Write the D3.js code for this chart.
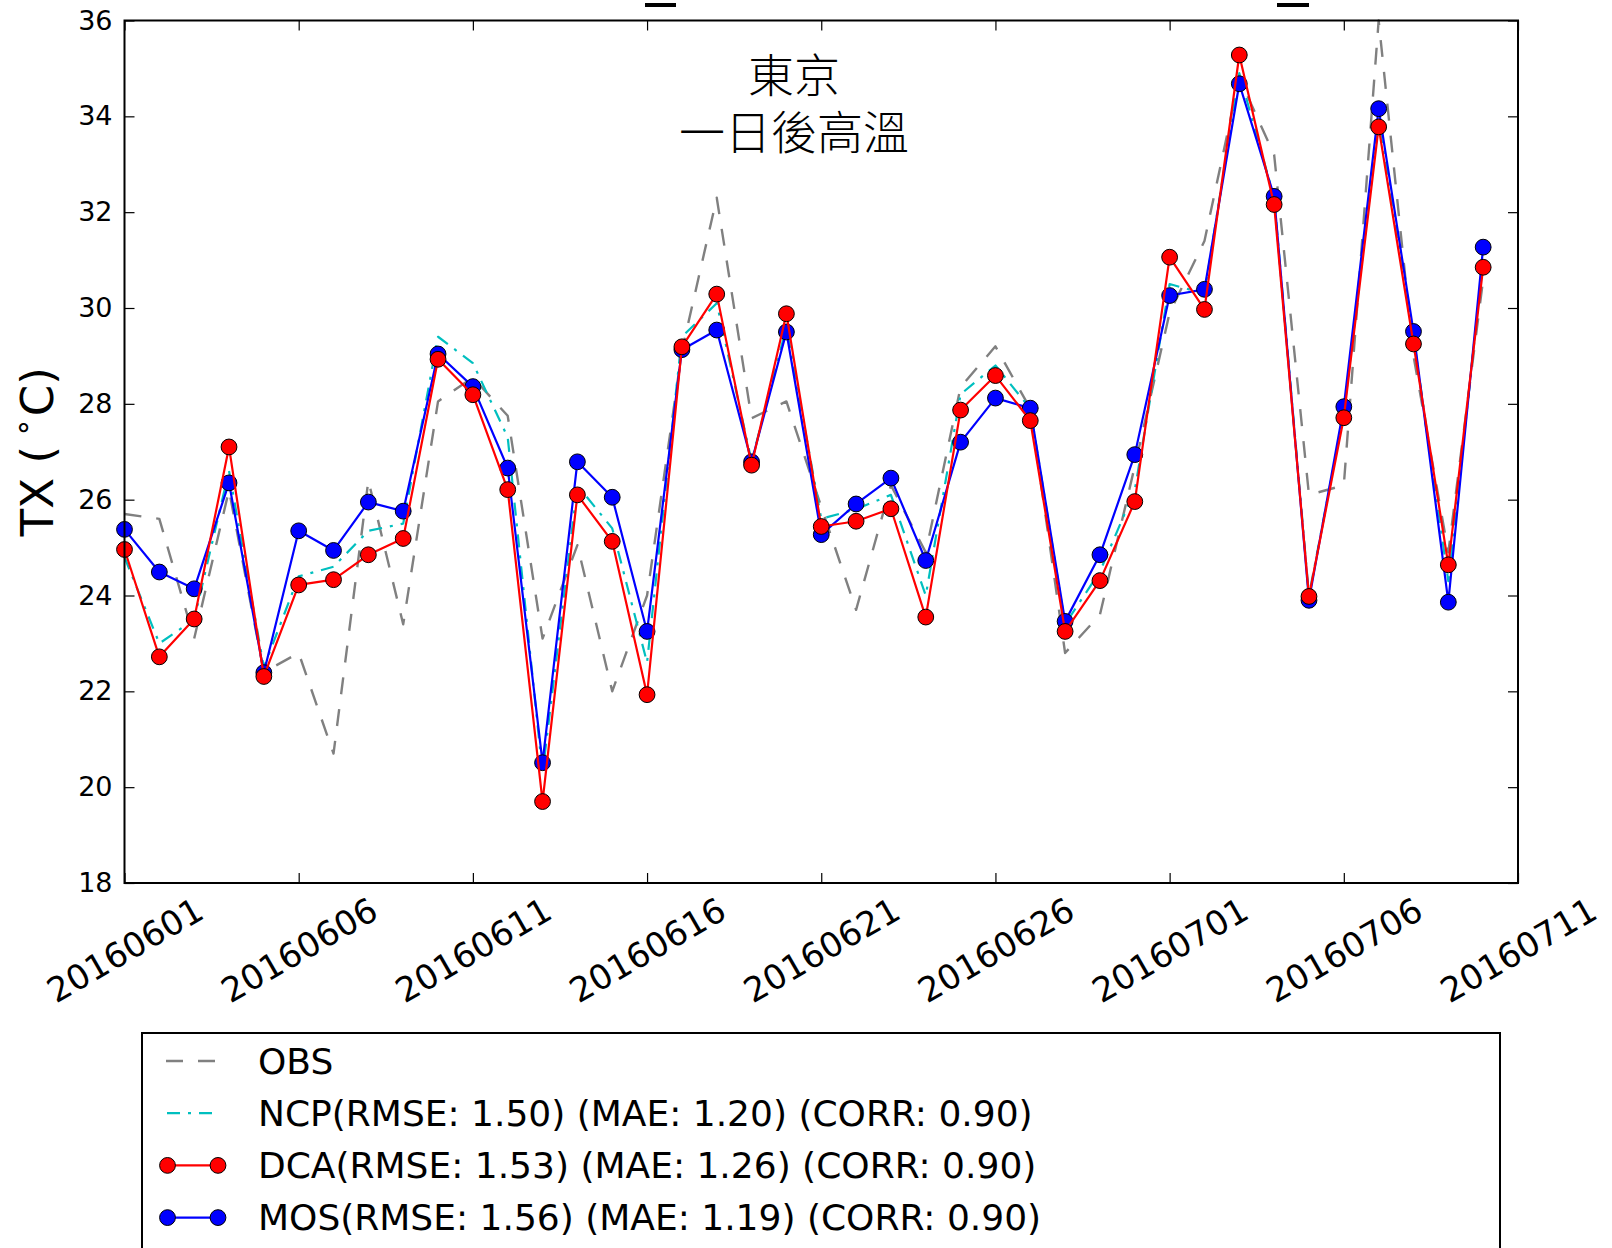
<!DOCTYPE html>
<html>
<head>
<meta charset="utf-8">
<script src="https://cdn.jsdelivr.net/npm/d3@7"></script>
<style>
  body { margin: 0; background: #fff; }
  text { font-family: "DejaVu Sans", sans-serif; fill: #000; }
</style>
</head>
<body>
<svg id="chart" width="1612" height="1248"></svg>
<script>
// Daily maximum temperature (°C), Tokyo, one-day-ahead forecasts, 2016-06-01 .. 2016-07-10
const tickLabels = ["20160601", "20160606", "20160611", "20160616", "20160621",
                    "20160626", "20160701", "20160706", "20160711"];
const yTicks = [18, 20, 22, 24, 26, 28, 30, 32, 34, 36];

const obs = [25.7, 25.6, 23.1, 26.2, 22.4, 22.8, 20.7, 26.4, 23.4, 28.05,
             28.55, 27.75, 23.1, 25.05, 22.0, 24.0, 29.1, 32.3, 27.7, 28.05,
             25.85, 23.7, 26.3, 24.9, 28.35, 29.2, 27.9, 22.8, 23.6, 26.7,
             29.9, 31.4, 34.8, 33.2, 26.1, 26.3, 36.0, 29.0, 24.9, 30.6];
const ncp = [24.8, 23.0, 23.5, 26.6, 22.5, 24.4, 24.6, 25.35, 25.5, 29.4,
             28.85, 27.3, 20.3, 26.3, 25.4, 22.6, 29.4, 30.1, 26.8, 29.6,
             25.6, 25.8, 26.1, 24.0, 28.2, 28.8, 27.9, 23.4, 24.5, 26.2,
             30.5, 30.3, 34.9, 32.3, 24.0, 27.8, 33.9, 29.4, 24.3, 31.0];
const dca = [24.96, 22.72, 23.51, 27.10, 22.31, 24.22, 24.33, 24.85, 25.19, 28.93,
             28.19, 26.21, 19.70, 26.10, 25.13, 21.93, 29.19, 30.29, 26.72, 29.88,
             25.44, 25.55, 25.81, 23.55, 27.87, 28.59, 27.65, 23.25, 24.31, 25.96,
             31.06, 29.97, 35.28, 32.16, 23.98, 27.71, 33.78, 29.25, 24.64, 30.85];
const mos = [25.38, 24.49, 24.14, 26.35, 22.39, 25.35, 24.94, 25.95, 25.76, 29.04,
             28.36, 26.66, 20.51, 26.79, 26.05, 23.25, 29.13, 29.54, 26.79, 29.50,
             25.27, 25.91, 26.45, 24.73, 27.20, 28.12, 27.91, 23.46, 24.85, 26.94,
             30.26, 30.39, 34.68, 32.33, 23.90, 27.94, 34.16, 29.51, 23.86, 31.27];

const titleLines = ["東京", "一日後高溫"];
const legendLabels = [
  "OBS",
  "NCP(RMSE: 1.50) (MAE: 1.20) (CORR: 0.90)",
  "DCA(RMSE: 1.53) (MAE: 1.26) (CORR: 0.90)",
  "MOS(RMSE: 1.56) (MAE: 1.19) (CORR: 0.90)"
];

const svg = d3.select("#chart");
const plot = { left: 124.5, right: 1518, top: 20.5, bottom: 883 };

const x = d3.scaleLinear().domain([0, (tickLabels.length - 1) * 5]).range([plot.left, plot.right]);
const y = d3.scaleLinear().domain([18, 36]).range([plot.bottom, plot.top]);
const xTickValues = tickLabels.map((_, i) => i * 5);

// series styling
const series = [
  { name: "OBS", values: obs, color: "#808080", width: 2.4, dash: "17,15", marker: false },
  { name: "NCP", values: ncp, color: "#00bfbf", width: 2.2, dash: "13,8,3,8", marker: false },
  { name: "MOS", values: mos, color: "#0000ff", width: 2.2, dash: null, marker: true },
  { name: "DCA", values: dca, color: "#ff0000", width: 2.2, dash: null, marker: true }
];
const markerR = 7.9;

// axes with inward ticks on all four sides
const tickLen = 10;
const gx = svg.append("g")
  .attr("transform", `translate(0,${plot.bottom})`)
  .call(d3.axisBottom(x).tickValues(xTickValues).tickSizeInner(-tickLen).tickSizeOuter(0)
        .tickFormat(d => tickLabels[d / 5]));
gx.selectAll("text")
  .attr("y", 0).attr("dy", null)
  .attr("text-anchor", "middle")
  .attr("dominant-baseline", "central")
  .attr("transform", "translate(0,67) rotate(-30)")
  .style("font-size", "34px");

svg.append("g")
  .attr("transform", `translate(0,${plot.top})`)
  .call(d3.axisTop(x).tickValues(xTickValues).tickSizeInner(-tickLen).tickSizeOuter(0).tickFormat(() => ""));

const gy = svg.append("g")
  .attr("transform", `translate(${plot.left},0)`)
  .call(d3.axisLeft(y).tickValues(yTicks).tickSizeInner(-tickLen).tickSizeOuter(0).tickPadding(12));
gy.selectAll("text").style("font-size", "27px");

svg.append("g")
  .attr("transform", `translate(${plot.right},0)`)
  .call(d3.axisRight(y).tickValues(yTicks).tickSizeInner(-tickLen).tickSizeOuter(0).tickFormat(() => ""));

svg.selectAll(".domain").remove();
svg.selectAll(".tick line").attr("stroke", "#000").attr("stroke-width", 1.2);
svg.selectAll(".tick text").attr("fill", "#000").style("font-family", "'DejaVu Sans', sans-serif");

// data lines
const line = d3.line().x((d, i) => x(i)).y(d => y(d));
series.forEach(s => {
  const g = svg.append("g");
  g.append("path")
    .datum(s.values)
    .attr("d", line)
    .attr("fill", "none")
    .attr("stroke", s.color)
    .attr("stroke-width", s.width)
    .attr("stroke-dasharray", s.dash)
    .attr("stroke-linejoin", "round");
  if (s.marker) {
    g.selectAll("circle").data(s.values).join("circle")
      .attr("cx", (d, i) => x(i))
      .attr("cy", d => y(d))
      .attr("r", markerR)
      .attr("fill", s.color)
      .attr("stroke", "#000")
      .attr("stroke-width", 1);
  }
});

// frame
svg.append("rect")
  .attr("x", plot.left).attr("y", plot.top)
  .attr("width", plot.right - plot.left).attr("height", plot.bottom - plot.top)
  .attr("fill", "none").attr("stroke", "#000").attr("stroke-width", 2);

// title (two lines in one text element)
const title = svg.append("text")
  .attr("text-anchor", "middle")
  .style("font-family", "'Noto Sans CJK TC', 'Noto Sans CJK SC', sans-serif")
  .style("font-weight", "300")
  .style("font-size", "46px");
title.selectAll("tspan").data(titleLines).join("tspan")
  .attr("x", 794)
  .attr("y", (d, i) => 92 + i * 56.5)
  .text(d => d);

// small marks above the frame
svg.append("rect").attr("x", 645).attr("y", 3).attr("width", 31).attr("height", 4).attr("fill", "#000");
svg.append("rect").attr("x", 1277).attr("y", 3).attr("width", 32).attr("height", 4).attr("fill", "#000");

// y-axis label
const yl = svg.append("text")
  .attr("transform", `translate(37,${(plot.top + plot.bottom) / 2}) rotate(-90)`)
  .attr("text-anchor", "middle")
  .attr("dominant-baseline", "central")
  .style("font-size", "45px");
yl.append("tspan").text("TX (");
yl.append("tspan").attr("dx", 9).attr("dy", -15).style("font-size", "30px").text("∘");
yl.append("tspan").attr("dy", 15).attr("dx", 2).text("C)");

// legend
const lg = svg.append("g");
lg.append("rect")
  .attr("x", 142).attr("y", 1033).attr("width", 1358).attr("height", 260)
  .attr("fill", "#fff").attr("stroke", "#000").attr("stroke-width", 2);
const legendOrder = ["OBS", "NCP", "DCA", "MOS"];
legendOrder.forEach((name, i) => {
  const s = series.find(d => d.name === name);
  const cy = 1061 + i * 52.2;
  const x0 = s.marker ? 167.5 : (s.name === "OBS" ? 166 : 167);
  const x1 = s.marker ? 218 : (s.name === "OBS" ? 216 : 213);
  lg.append("line")
    .attr("x1", x0).attr("x2", x1).attr("y1", cy).attr("y2", cy)
    .attr("stroke", s.color).attr("stroke-width", s.width)
    .attr("stroke-dasharray", s.dash);
  if (s.marker) {
    [x0, x1].forEach(cx => lg.append("circle")
      .attr("cx", cx).attr("cy", cy).attr("r", markerR)
      .attr("fill", s.color).attr("stroke", "#000").attr("stroke-width", 1));
  }
  lg.append("text")
    .attr("x", 258).attr("y", cy)
    .attr("dominant-baseline", "central")
    .style("font-size", "36px")
    .text(legendLabels[i]);
});
</script>
</body>
</html>
